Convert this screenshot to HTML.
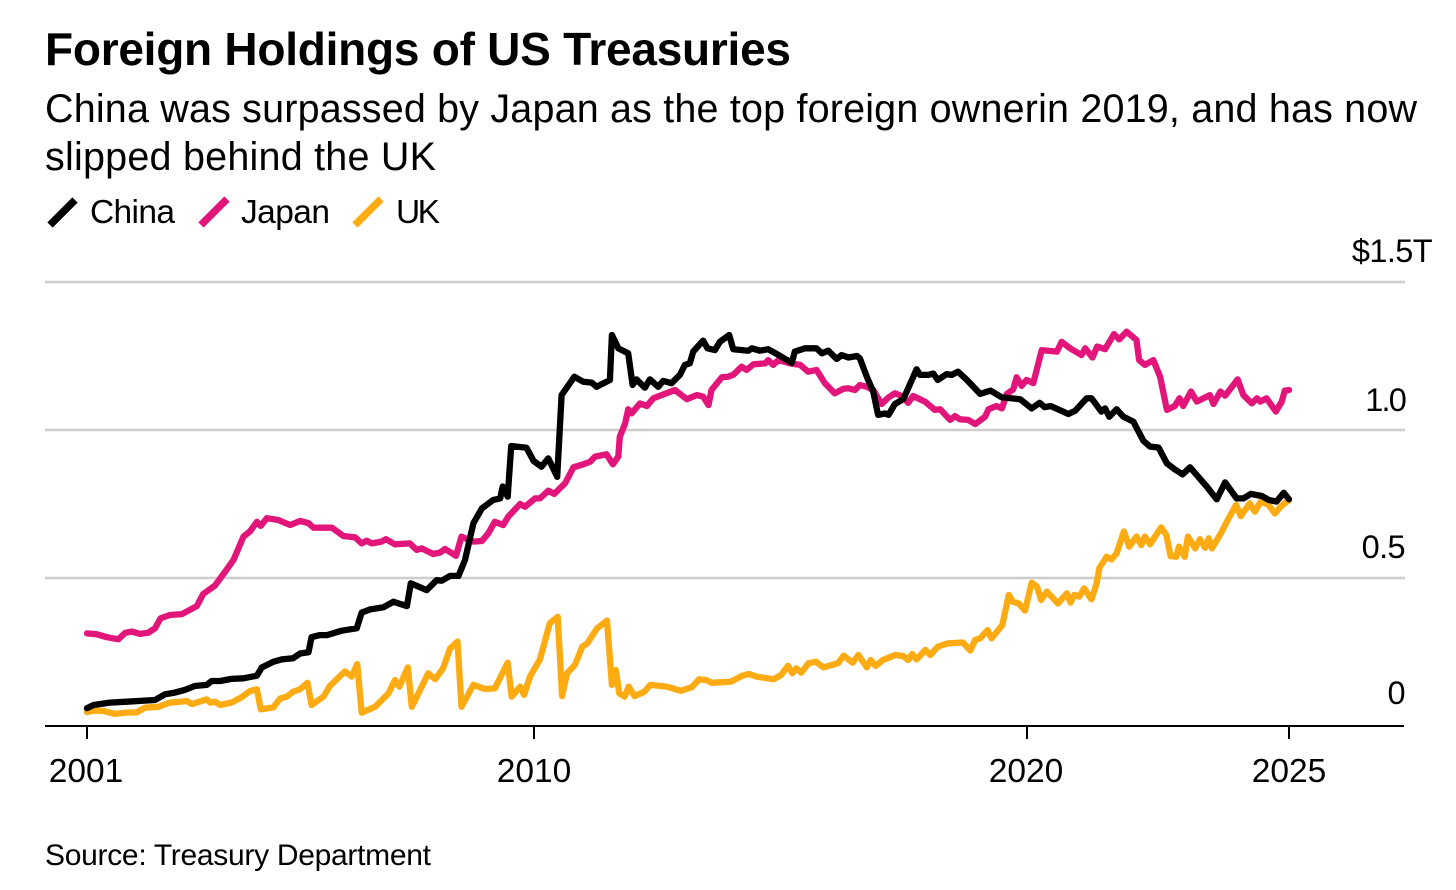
<!DOCTYPE html>
<html lang="en">
<head>
<meta charset="utf-8">
<title>Foreign Holdings of US Treasuries</title>
<style>
html,body{margin:0;padding:0;background:#fff;}
body{width:1456px;height:890px;overflow:hidden;}
svg{display:block;font-family:"Liberation Sans",Arial,sans-serif;fill:#000;}
</style>
</head>
<body>
<svg id="chart" width="1456" height="890" viewBox="0 0 1456 890" xmlns="http://www.w3.org/2000/svg">
  <rect x="0" y="0" width="1456" height="890" fill="#fff"/>
  <text x="45" y="65" font-size="46" font-weight="700" textLength="746" lengthAdjust="spacing">Foreign Holdings of US Treasuries</text>
  <text x="45" y="122" font-size="39.5" textLength="1372" lengthAdjust="spacing">China was surpassed by Japan as the top foreign ownerin 2019, and has now</text>
  <text x="45" y="170" font-size="39.5" textLength="391" lengthAdjust="spacing">slipped behind the UK</text>

  <g>
    <g>
      <line x1="50" y1="225" x2="75" y2="200" stroke="#000" stroke-width="7.5"/>
      <text x="90" y="223" font-size="33.5" textLength="85" lengthAdjust="spacing">China</text>
    </g>
    <g>
      <line x1="201" y1="225" x2="227" y2="199" stroke="#e2157a" stroke-width="7.5"/>
      <text x="241" y="223" font-size="33.5" textLength="89" lengthAdjust="spacing">Japan</text>
    </g>
    <g>
      <line x1="355" y1="225" x2="381" y2="199" stroke="#fdab12" stroke-width="7.5"/>
      <text x="396" y="223" font-size="33.5" textLength="44" lengthAdjust="spacing">UK</text>
    </g>
  </g>

  <g id="grid"></g>
  <g id="ylabels"></g>
  <g id="series"></g>
  <line x1="45" y1="726" x2="1404" y2="726" stroke="#000" stroke-width="2"/>
  <g id="xaxis"></g>

  <text x="45" y="865" font-size="30" textLength="386" lengthAdjust="spacing">Source: Treasury Department</text>
</svg>

<script>
const xTicks = [2001, 2010, 2020, 2025];
const yTicks = [0, 0.5, 1.0, 1.5];
const yTickLabels = ["0", "0.5", "1.0", "$1.5T"];

const chinaDates = [
2001,2001.13,2001.46,2001.8,2002.37,2002.57,2002.77,2002.97,2003.17,2003.41,
2003.51,2003.68,2003.91,2004.15,2004.42,2004.52,2004.75,2004.92,2005.15,2005.29,
2005.46,2005.52,2005.69,2005.83,2006.13,2006.43,2006.53,2006.7,2006.97,2007.17,
2007.44,2007.52,2007.84,2008.04,2008.14,2008.31,2008.48,2008.61,2008.78,2008.95,
2009.18,2009.32,2009.37,2009.47,2009.54,2009.85,2009.99,2010.15,2010.29,2010.47,
2010.56,2010.82,2011,2011.17,2011.27,2011.54,2011.58,2011.71,2011.91,2012,
2012.08,2012.25,2012.35,2012.52,2012.62,2012.79,2012.96,2013.06,2013.16,2013.23,
2013.43,2013.52,2013.67,2013.77,2013.96,2014.04,2014.35,2014.42,2014.58,2014.75,
2014.92,2015.23,2015.29,2015.5,2015.73,2015.84,2015.97,2016.14,2016.24,2016.38,
2016.55,2016.61,2016.75,2016.88,2016.98,2017.12,2017.19,2017.32,2017.49,2017.76,
2017.83,2018,2018.1,2018.19,2018.37,2018.47,2018.6,2018.77,2019.05,2019.26,
2019.49,2019.86,2020.09,2020.24,2020.34,2020.45,2020.79,2020.92,2021.14,2021.23,
2021.42,2021.49,2021.57,2021.71,2021.84,2022.03,2022.22,2022.35,2022.51,2022.67,
2022.82,2022.97,2023.11,2023.43,2023.62,2023.78,2024,2024.13,2024.27,2024.48,
2024.61,2024.76,2024.9,2025];
const chinaValues = [
.06,.071,.079,.082,.088,.107,.113,.122,.135,.139,
.152,.152,.159,.161,.17,.198,.217,.225,.229,.245,
.249,.3,.307,.307,.322,.33,.383,.394,.401,.42,
.405,.482,.459,.493,.491,.507,.507,.561,.685,.735,
.764,.769,.809,.775,.946,.94,.896,.876,.904,.842,
1.118,1.18,1.163,1.16,1.146,1.169,1.321,1.276,1.259,1.152,
1.171,1.143,1.171,1.146,1.166,1.158,1.186,1.22,1.225,1.265,
1.302,1.276,1.27,1.298,1.321,1.273,1.268,1.276,1.268,1.273,
1.257,1.227,1.265,1.276,1.276,1.259,1.268,1.24,1.253,1.245,
1.25,1.242,1.18,1.13,1.051,1.056,1.051,1.088,1.104,1.205,
1.186,1.186,1.191,1.169,1.189,1.186,1.197,1.171,1.122,1.133,
1.11,1.104,1.073,1.092,1.077,1.081,1.054,1.065,1.107,1.107,
1.062,1.073,1.045,1.07,1.045,1.028,.964,.944,.941,.887,
.867,.85,.874,.809,.766,.823,.769,.769,.784,.777,
.764,.758,.788,.766];

const japanDates = [
2001,2001.19,2001.4,2001.63,2001.77,2001.9,2002.07,2002.23,2002.37,2002.48,
2002.67,2002.91,2003.21,2003.34,2003.58,2003.78,2003.95,2004.15,2004.28,2004.42,
2004.5,2004.62,2004.85,2005.09,2005.29,2005.46,2005.56,2005.93,2006.16,2006.4,
2006.53,2006.63,2006.73,2006.93,2007.02,2007.2,2007.5,2007.64,2007.74,2007.97,
2008.11,2008.21,2008.43,2008.54,2008.61,2008.78,2008.95,2009.08,2009.21,2009.38,
2009.48,2009.72,2009.82,2010.02,2010.12,2010.29,2010.41,2010.63,2010.8,2011,
2011.14,2011.24,2011.47,2011.6,2011.71,2011.74,2011.85,2011.91,2011.98,2012.15,
2012.29,2012.42,2012.59,2012.86,2013.1,2013.3,2013.43,2013.54,2013.6,2013.81,
2013.94,2014.04,2014.21,2014.31,2014.45,2014.69,2014.75,2014.85,2014.96,2015.19,
2015.4,2015.56,2015.73,2015.9,2016.1,2016.27,2016.38,2016.51,2016.61,2016.75,
2016.88,2017.05,2017.19,2017.32,2017.46,2017.59,2017.69,2017.93,2018.13,2018.24,
2018.44,2018.54,2018.64,2018.81,2018.95,2019.15,2019.22,2019.38,2019.49,2019.59,
2019.72,2019.79,2019.89,2019.99,2020.12,2020.28,2020.57,2020.66,2020.82,2021.04,
2021.11,2021.25,2021.34,2021.49,2021.66,2021.76,2021.9,2022.09,2022.14,2022.25,
2022.41,2022.54,2022.67,2022.82,2022.91,2022.98,2023.13,2023.24,2023.49,2023.56,
2023.69,2023.78,2024.02,2024.13,2024.29,2024.39,2024.45,2024.57,2024.75,2024.86,
2024.92,2025];
const japanValues = [
.313,.31,.3,.293,.315,.319,.311,.315,.33,.364,
.375,.378,.405,.446,.475,.521,.561,.64,.657,.69,
.676,.702,.696,.679,.693,.685,.67,.67,.642,.637,
.617,.626,.617,.623,.631,.614,.617,.595,.6,.581,
.586,.598,.575,.64,.634,.623,.625,.651,.69,.679,
.707,.75,.741,.769,.769,.795,.784,.82,.874,.884,
.893,.91,.918,.884,.91,.977,1.023,1.07,1.056,1.09,
1.081,1.107,1.118,1.135,1.104,1.118,1.113,1.084,1.135,1.178,
1.18,1.186,1.214,1.203,1.222,1.225,1.236,1.22,1.236,1.225,
1.22,1.197,1.203,1.158,1.124,1.139,1.141,1.135,1.152,1.146,
1.135,1.088,1.11,1.124,1.115,1.092,1.115,1.096,1.068,1.07,
1.034,1.047,1.036,1.034,1.02,1.045,1.07,1.081,1.073,1.122,
1.137,1.178,1.149,1.169,1.158,1.27,1.265,1.298,1.276,1.253,
1.276,1.245,1.282,1.273,1.324,1.306,1.332,1.304,1.236,1.22,
1.236,1.18,1.068,1.081,1.107,1.081,1.13,1.096,1.118,1.088,
1.13,1.116,1.171,1.118,1.09,1.107,1.096,1.107,1.062,1.096,
1.133,1.135];

const ukDates = [
2001,2001.13,2001.33,2001.56,2001.77,2002,2002.17,2002.44,2002.67,2003.01,
2003.11,2003.41,2003.48,2003.58,2003.68,2003.91,2004.11,2004.28,2004.42,2004.5,
2004.75,2004.89,2005.02,2005.15,2005.29,2005.44,2005.52,2005.76,2005.89,2006.19,
2006.33,2006.44,2006.53,2006.8,2007.07,2007.2,2007.29,2007.46,2007.54,2007.74,
2007.87,2008.01,2008.17,2008.31,2008.46,2008.54,2008.78,2009.01,2009.21,2009.47,
2009.55,2009.72,2009.8,2009.92,2010.12,2010.32,2010.48,2010.57,2010.67,2010.83,
2010.98,2011.08,2011.28,2011.48,2011.58,2011.66,2011.73,2011.84,2011.92,2012.04,
2012.24,2012.36,2012.69,2012.98,2013.2,2013.35,2013.5,2013.6,2014,2014.21,
2014.36,2014.51,2014.86,2015.01,2015.15,2015.24,2015.32,2015.42,2015.57,2015.72,
2015.87,2016.17,2016.28,2016.46,2016.58,2016.75,2016.83,2016.93,2017.08,2017.33,
2017.49,2017.59,2017.67,2017.76,2017.94,2018.04,2018.19,2018.39,2018.7,2018.85,
2018.95,2019.05,2019.2,2019.28,2019.5,2019.63,2019.71,2019.83,2019.96,2020.09,
2020.19,2020.27,2020.38,2020.47,2020.59,2020.76,2020.83,2020.9,2021,2021.09,
2021.23,2021.33,2021.38,2021.52,2021.61,2021.71,2021.85,2021.95,2022.09,2022.18,
2022.25,2022.35,2022.56,2022.66,2022.74,2022.85,2022.9,2023.01,2023.07,2023.21,
2023.3,2023.4,2023.47,2023.53,2023.7,2023.85,2023.99,2024.08,2024.25,2024.35,
2024.46,2024.61,2024.73,2024.84,2025];
const ukValues = [
.047,.052,.051,.041,.045,.046,.062,.065,.079,.084,
.074,.09,.079,.082,.071,.079,.097,.118,.124,.056,
.063,.093,.099,.116,.124,.146,.071,.099,.135,.184,
.167,.209,.045,.065,.11,.155,.133,.198,.065,.133,
.178,.158,.195,.262,.285,.065,.139,.125,.127,.214,
.099,.133,.105,.167,.225,.347,.369,.101,.178,.206,
.268,.279,.33,.356,.139,.189,.11,.099,.133,.101,
.116,.139,.133,.119,.131,.158,.155,.146,.15,.169,
.176,.167,.158,.172,.203,.178,.195,.18,.212,.217,
.198,.212,.238,.214,.24,.198,.223,.203,.223,.24,
.236,.223,.243,.225,.257,.24,.268,.279,.282,.255,
.291,.296,.324,.296,.341,.443,.42,.414,.39,.484,
.471,.426,.454,.437,.414,.448,.417,.443,.437,.465,
.428,.482,.533,.572,.563,.583,.657,.606,.64,.611,
.64,.614,.671,.645,.574,.572,.606,.572,.64,.6,
.631,.602,.634,.6,.651,.702,.747,.709,.752,.724,
.758,.747,.718,.741,.764];

const SVGNS = "http://www.w3.org/2000/svg";
const xDomain = xTicks;
const xRange = [87, 534, 1027, 1289];

function xScale(year) {
  let i = 0;
  while (i < xDomain.length - 2 && year > xDomain[i + 1]) i++;
  const t = (year - xDomain[i]) / (xDomain[i + 1] - xDomain[i]);
  return xRange[i] + t * (xRange[i + 1] - xRange[i]);
}
function yScale(value) {
  return 726 - value * 296;
}

const gridGroup = document.getElementById("grid");
const yLabelGroup = document.getElementById("ylabels");
yTicks.forEach(function (tick, i) {
  if (tick !== 0) {
    const gl = document.createElementNS(SVGNS, "line");
    
    
    gl.setAttribute("x1", 45);
    gl.setAttribute("x2", 1405);
    gl.setAttribute("y1", yScale(tick));
    gl.setAttribute("y2", yScale(tick));
    gl.setAttribute("stroke", "#cdcdcd");
    gl.setAttribute("stroke-width", "2.5");
    gridGroup.appendChild(gl);
  }
  const label = document.createElementNS(SVGNS, "text");
  
  
  label.setAttribute("x", tick === 1.5 ? 1432 : 1405);
  label.setAttribute("y", yScale(tick) - (tick === 0 ? 22 : tick === 1.0 ? 19 : 20));
  label.setAttribute("text-anchor", "end");
  label.setAttribute("font-size", "32.5");
  label.setAttribute("letter-spacing", tick === 1.0 ? "-1.8" : "-0.6");
  label.textContent = yTickLabels[i];
  yLabelGroup.appendChild(label);
});

const xAxisGroup = document.getElementById("xaxis");
xTicks.forEach(function (year) {
  const tick = document.createElementNS(SVGNS, "line");
  
  
  tick.setAttribute("x1", xScale(year));
  tick.setAttribute("x2", xScale(year));
  tick.setAttribute("y1", 726);
  tick.setAttribute("y2", 739);
  tick.setAttribute("stroke", "#000");
  tick.setAttribute("stroke-width", "2");
  xAxisGroup.appendChild(tick);
  const label = document.createElementNS(SVGNS, "text");
  
  
  label.setAttribute("x", xScale(year) + (year === 2001 ? -1 : year === 2020 ? -1 : 0));
  label.setAttribute("y", 782);
  label.setAttribute("text-anchor", "middle");
  label.setAttribute("font-size", "33.5");
  label.textContent = String(year);
  xAxisGroup.appendChild(label);
});

function drawSeries(name, dates, values, color) {
  const pts = dates.map(function (d, i) {
    return xScale(d).toFixed(1) + "," + yScale(values[i]).toFixed(1);
  });
  const line = document.createElementNS(SVGNS, "polyline");
  
  
  line.setAttribute("points", pts.join(" "));
  line.setAttribute("fill", "none");
  line.setAttribute("stroke", color);
  line.setAttribute("stroke-width", "6.3");
  line.setAttribute("stroke-linejoin", "round");
  line.setAttribute("stroke-linecap", "round");
  document.getElementById("series").appendChild(line);
}
drawSeries("uk-line", ukDates, ukValues, "#fdab12");
drawSeries("japan-line", japanDates, japanValues, "#e2157a");
drawSeries("china-line", chinaDates, chinaValues, "#000000");
</script>
</body>
</html>
